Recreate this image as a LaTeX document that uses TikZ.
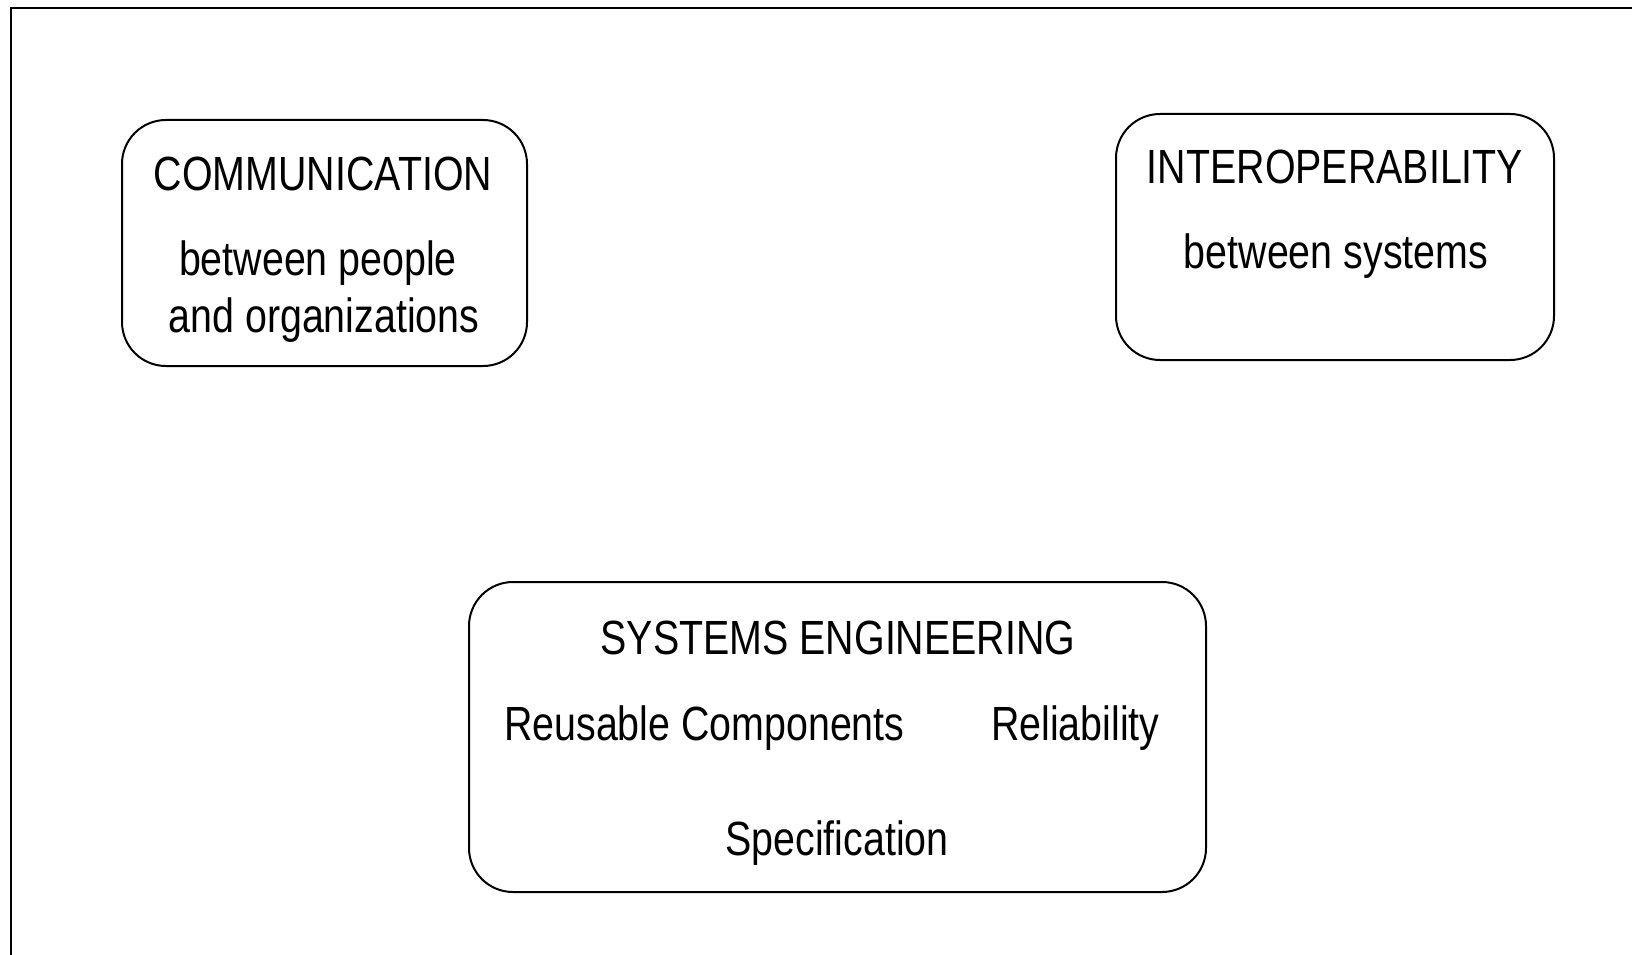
\documentclass[tikz,border=0pt]{standalone}
\usepackage{fontspec}
\setmainfont{Liberation Sans}[FakeStretch=0.82]
\begin{document}
\begin{tikzpicture}[x=1pt,y=-1pt,
  panel/.style={draw=black,line width=2pt,rounded corners=44pt,inner sep=0pt},
  label/.style={anchor=base,inner sep=0pt,font=\fontsize{48}{58}\selectfont},
  leftlabel/.style={label,anchor=base west}]
  \useasboundingbox (0,0) rectangle (1632,955);
  % outer frame (top and left edges)
  \draw[line width=2.6pt] (11,955) -- (11,8) -- (1632,8);

  % communication panel
  \node[panel,minimum width=405pt,minimum height=246pt] (comm) at (324.5,243) {};
  \node[label] (commT) at (323,190) {COMMUNICATION};
  \node[label] (commA) at (318,275) {between people};
  \node[label] (commB) at (324,332) {and organizations};

  % interoperability panel
  \node[panel,minimum width=438pt,minimum height=246pt] (inter) at (1335,237) {};
  \node[label] (interT) at (1335,183) {INTEROPERABILITY};
  \node[label] (interA) at (1336,268) {between systems};

  % systems engineering panel
  \node[panel,minimum width=737pt,minimum height=310pt] (se) at (837.5,737) {};
  \node[label] (seT) at (838,654) {SYSTEMS ENGINEERING};
  \node[leftlabel] (seR) at (504,740) {Reusable Components};
  \node[leftlabel] (seL) at (991,740) {Reliability};
  \node[label] (seS) at (837,855) {Specification};
\end{tikzpicture}
\end{document}
